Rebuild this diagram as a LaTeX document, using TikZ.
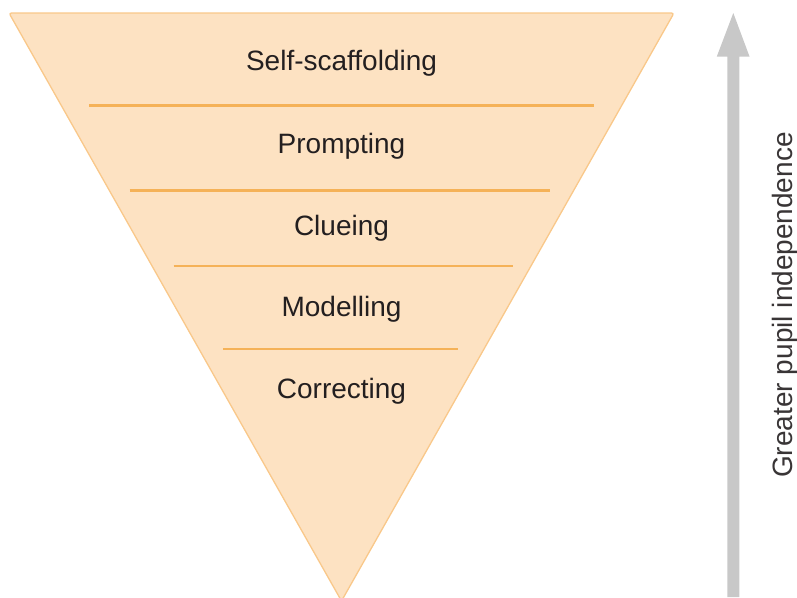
\documentclass[tikz,border=0pt]{standalone}
\usepackage{fontspec}
\setmainfont{Liberation Sans}
\definecolor{trifill}{HTML}{FDE2C2}
\definecolor{triedge}{HTML}{F9C88A}
\definecolor{sepline}{HTML}{F5B258}
\definecolor{arrowgray}{HTML}{C8C8C8}
\definecolor{txt}{HTML}{231F20}
\begin{document}
\begin{tikzpicture}[x=1pt,y=-1pt,
  level/.style={anchor=base,font=\fontsize{28}{33}\selectfont,text=txt,inner sep=0pt},
  sep/.style={draw=sepline,line width=2.2pt},
  sidelabel/.style={anchor=base,rotate=90,font=\fontsize{28}{33}\selectfont,text=txt!90!white,inner sep=0pt}]
\useasboundingbox (0,0) rectangle (797,597);
% inverted triangle
\coordinate (tl) at (9,13);
\coordinate (tr) at (674,13);
\coordinate (ap) at (341.5,601);
\filldraw[fill=trifill,draw=triedge,line width=1.3pt,rounded corners=2.5pt,line join=round]
  (tl) -- (tr) -- (ap) -- cycle;
% separators
\draw[sep] (89,105.5) -- (594,105.5);
\draw[sep] (129.5,190.5) -- (549.5,190.5);
\draw[sep] (173.5,266) -- (512.5,266);
\draw[sep] (223,349) -- (457.5,349);
% labels
\node[level] (l1) at (341.5,70) {Self-scaffolding};
\node[level] (l2) at (341.5,153) {Prompting};
\node[level] (l3) at (341.5,235) {Clueing};
\node[level] (l4) at (341.5,316) {Modelling};
\node[level] (l5) at (341.5,398) {Correcting};
% arrow
\fill[arrowgray] (727.3,597) -- (727.3,56.5) -- (716.8,56.5) -- (733.3,13) -- (749.5,56.5) -- (739.3,56.5) -- (739.3,597) -- cycle;
\node[sidelabel] (side) at (792.5,305) {Greater pupil independence};
\end{tikzpicture}
\end{document}
